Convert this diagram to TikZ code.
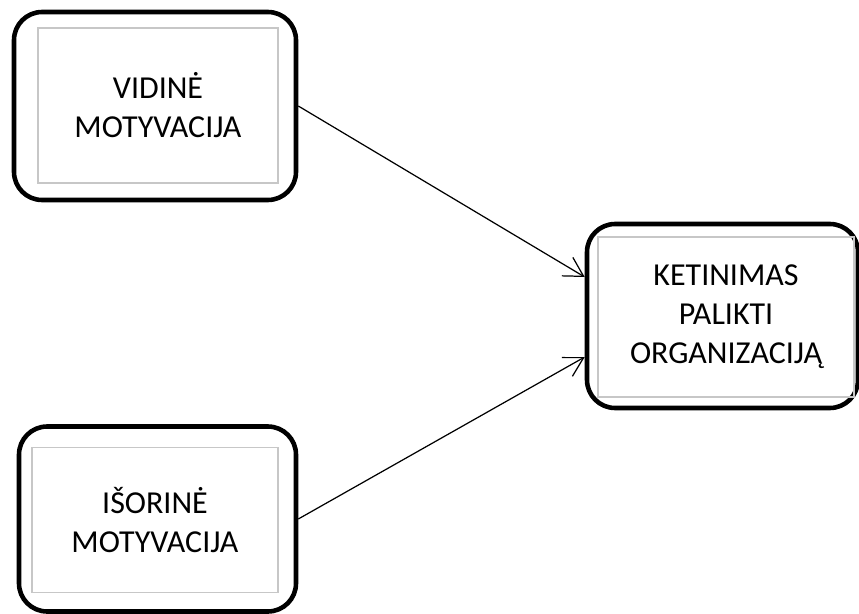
\documentclass[tikz,border=0pt]{standalone}
\usepackage{fontspec}
\setmainfont{Carlito}
\usetikzlibrary{positioning, arrows.meta}
\tikzset{outerbox/.style={draw, line width=2.6pt, rounded corners=16pt, inner sep=0pt}}
\tikzset{innerbox/.style={draw=black!22, line width=0.6pt, inner sep=0pt, align=center, font=\fontsize{18.2}{22.2}\selectfont}}
\tikzset{arr/.style={draw, line width=0.7pt, -{Straight Barb[length=0.38cm, width=0.43cm]}}}

\begin{document}
\begin{tikzpicture}
			\useasboundingbox (0,0) rectangle (17.18,12.26);
			\node[outerbox, minimum width=5.64cm, minimum height=3.76cm] (vidine) at (3.10,10.14) {};
			\node[innerbox, minimum width=4.80cm, minimum height=3.10cm] (vidine-txt) at (3.16,10.15) {VIDINĖ\\MOTYVACIJA};
			%
			\node[outerbox, minimum width=5.54cm, minimum height=3.70cm] (isorine) at (3.15,1.88) {};
			\node[innerbox, minimum width=4.92cm, minimum height=2.90cm] (isorine-txt) at (3.10,1.86) {IŠORINĖ\\MOTYVACIJA};
			%
			\node[outerbox, minimum width=5.42cm, minimum height=3.68cm] (ketinimas) at (14.45,5.94) {};
			\node[innerbox, minimum width=5.12cm, minimum height=3.20cm] (ketinimas-txt) at (14.52,5.92) {KETINIMAS\\PALIKTI\\ORGANIZACIJĄ};
			%
			\draw[arr] (vidine.east) -- ([yshift=0.78cm]ketinimas.west);
			\draw[arr] (isorine.east) -- ([yshift=-0.82cm]ketinimas.west);
		\end{tikzpicture}
\end{document}
